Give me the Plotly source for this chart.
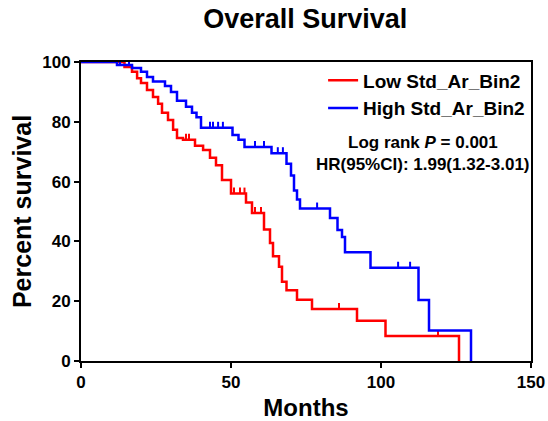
import numpy as np
import plotly.graph_objects as go

# Step curves (time in months, percent survival after the step)
low_times = [0, 14.5, 17, 18.7, 20, 22, 24, 25.7, 27, 29, 30.7, 32, 34, 38, 40.7, 43, 45, 47, 50, 55, 57, 61, 63, 64, 66, 67, 68.5, 72, 77, 92, 101.5, 126]
low_surv = [100, 98.3, 96.7, 94.6, 93, 90.6, 88.3, 86, 83, 80.6, 77.3, 74.6, 74, 72, 70.6, 68, 65.5, 60.5, 56, 53, 49.5, 44, 39.5, 35, 31.5, 26.5, 23.7, 20.5, 17.4, 13.5, 8.4, 0]
low_censor = [2.3, 9, 12, 35, 36, 51, 53, 54.5, 58, 60, 86, 119]

high_times = [0, 12, 17, 20, 22, 24, 28, 30, 32, 35, 37, 38.5, 40, 50.5, 52.5, 54.5, 63.5, 68.5, 70, 71, 72, 73, 83, 85.5, 87, 88, 96.5, 112.5, 116, 130]
high_surv = [100, 99, 98, 96.7, 95, 93.5, 92, 90, 87, 85, 83, 81.5, 78, 75.6, 74, 71.6, 69.5, 66, 62, 57, 54, 51, 47.8, 43.8, 41.5, 36.4, 31.2, 20.4, 10.2, 0]
high_censor = [7, 10, 13, 16, 43, 44, 45.7, 47.3, 58, 61, 65.6, 67.3, 78.7, 105.7, 109.7]

x_ticks = [0, 50, 100, 150]
y_ticks = [0, 20, 40, 60, 80, 100]


def step_value(times, surv, t):
    idx = np.searchsorted(np.array(times), t, side="right") - 1
    return surv[max(idx, 0)]


FONT = "Liberation Sans, Arial, sans-serif"
RED = "#ff0000"
BLUE = "#0000ff"

fig = go.Figure()

for name, times, surv, cens, col in [
    ("Low Std_Ar_Bin2", low_times, low_surv, low_censor, RED),
    ("High Std_Ar_Bin2", high_times, high_surv, high_censor, BLUE),
]:
    fig.add_trace(go.Scatter(
        x=times, y=surv, mode="lines", name=name, legendgroup=name,
        line=dict(color=col, width=2.5, shape="hv"),
    ))
    # censor ticks: short upward strokes drawn as one-sided error bars
    fig.add_trace(go.Scatter(
        x=cens, y=[step_value(times, surv, t) for t in cens], mode="markers",
        showlegend=False, legendgroup=name, hoverinfo="skip",
        marker=dict(size=1, color=col, opacity=0),
        error_y=dict(type="constant", value=2.0, symmetric=False, valueminus=0,
                     width=0, thickness=2, color=col),
    ))

fig.update_layout(
    width=548, height=421,
    margin=dict(l=81, r=17, t=62, b=60),
    plot_bgcolor="white", paper_bgcolor="white",
    font=dict(family=FONT, color="black"),
    title=dict(text="<b>Overall Survival</b>", x=0.557, xanchor="center", y=0.957, yanchor="middle",
               font=dict(size=27, family=FONT, color="black")),
    legend=dict(x=0.538, y=1.002, xanchor="left", yanchor="top", bgcolor="rgba(0,0,0,0)",
                font=dict(size=19, family=FONT, color="black", weight="bold"), tracegroupgap=0,
                itemwidth=30),
    showlegend=True,
)

fig.update_xaxes(
    range=[0, 150], tickvals=x_ticks, ticktext=[str(v) for v in x_ticks],
    showgrid=False, zeroline=False, showline=True, linecolor="black", linewidth=2,
    mirror=True, ticks="outside", ticklen=5, tickwidth=2, tickcolor="black", automargin=False,
    tickfont=dict(size=17, family=FONT, color="black", weight="bold"),
    title=dict(text="<b>Months</b>", font=dict(size=24, family=FONT, color="black"), standoff=12),
)
fig.update_yaxes(
    range=[0, 100], tickvals=y_ticks, ticktext=[str(v) for v in y_ticks],
    showgrid=False, zeroline=False, showline=True, linecolor="black", linewidth=2,
    mirror=True, ticks="outside", ticklen=5, tickwidth=2, tickcolor="black", automargin=False,
    tickfont=dict(size=17, family=FONT, color="black", weight="bold"),
    title=dict(text="<b>Percent survival</b>", font=dict(size=25, family=FONT, color="black"), standoff=3),
)

fig.add_annotation(x=0.76, y=0.732, xref="paper", yref="paper", showarrow=False,
                   xanchor="center", yanchor="middle",
                   text="<b>Log rank <i>P</i> = 0.001</b>",
                   font=dict(size=17, family=FONT, color="black"))
fig.add_annotation(x=0.76, y=0.658, xref="paper", yref="paper", showarrow=False,
                   xanchor="center", yanchor="middle",
                   text="<b>HR(95%CI): 1.99(1.32-3.01)</b>",
                   font=dict(size=17, family=FONT, color="black"))

fig.write_html("out.html", config={"displayModeBar": False},
               post_script="document.body.style.margin='0';document.body.style.overflow='hidden';")
